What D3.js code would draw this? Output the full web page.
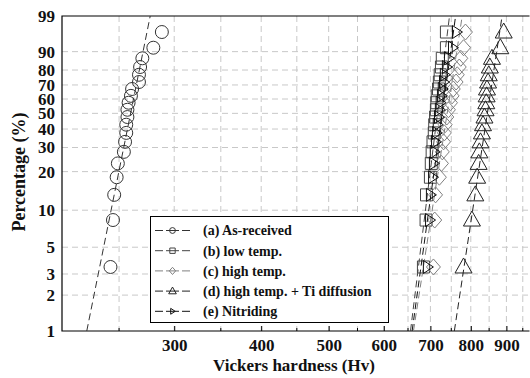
<!DOCTYPE html>
<html>
<head>
<meta charset="utf-8">
<script src="https://cdn.jsdelivr.net/npm/d3@7"></script>
<style>
  body { margin: 0; background: #fff; }
  text { font-family: "Liberation Serif", "Times New Roman", serif; font-weight: bold; fill: #111; }
</style>
</head>
<body>
<svg width="530" height="378"></svg>
<script>
// hardness values (Hv), sorted, 20 indents per sample
var seriesNames = ['(a) As-received', '(b) low temp.', '(c) high temp.', '(d) high temp. + Ti diffusion', '(e) Nitriding'];
var hvA = [243, 245, 246, 248, 249, 254, 255, 256, 256, 257, 257, 258, 260, 261, 267, 267, 268, 270, 280, 288];
var hvB = [684, 690, 691, 700, 702, 704, 706, 709, 710, 712, 714, 715, 716, 719, 721, 723, 726, 728, 738, 738];
var hvC = [707, 710, 712, 721, 726, 728, 731, 733, 735, 739, 743, 748, 752, 755, 762, 765, 770, 774, 781, 786];
var hvD = [781, 803, 812, 817, 821, 823, 826, 830, 833, 837, 840, 842, 843, 844, 847, 849, 852, 858, 882, 892];
var hvE = [693, 698, 700, 705, 707, 709, 712, 714, 716, 719, 721, 723, 726, 728, 731, 733, 738, 743, 753, 763];
// fitted weibull lines: shape (m) and scale (Hv)
var fitShape = [29.2, 47.5, 38.0, 38.8, 42.6];
var fitScale = [263, 722, 747, 853, 734];

var xTicks = [300, 400, 500, 600, 700, 800, 900];
var xMinor = [250, 350, 450, 550, 650, 750, 850, 950];
var yTicks = [1, 2, 3, 5, 10, 20, 30, 40, 50, 60, 70, 80, 90, 99];

var colors = ['#333', '#444', '#808080', '#222', '#111'];
var shapes = ['circle', 'square', 'diamond', 'triangle', 'right'];

var svg = d3.select('svg');
var pLeft = 62, pRight = 529.5, pTop = 16, pBottom = 331;

function weib(p) { return Math.log(-Math.log(1 - p)); }

var x = d3.scaleLog().domain([207, 973]).range([pLeft, 530]);
var yw = d3.scaleLinear().domain([weib(0.01), weib(0.99)]).range([pBottom, pTop]);
function y(pct) { return yw(weib(pct / 100)); }

// grid
svg.append('g').selectAll('line')
	.data(yTicks.filter(function(d){ return d > 1 && d < 99; }))
	.enter().append('line')
	.attr('x1', pLeft).attr('x2', pRight)
	.attr('y1', function(d){ return y(d); }).attr('y2', function(d){ return y(d); })
	.style('stroke', '#c8c8c8').style('stroke-dasharray', '6,4');

svg.append('g').selectAll('line')
	.data(xTicks.concat(xMinor))
	.enter().append('line')
	.attr('x1', function(d){ return x(d); }).attr('x2', function(d){ return x(d); })
	.attr('y1', pTop).attr('y2', pBottom)
	.style('stroke', '#c8c8c8').style('stroke-dasharray', '6,4');

// frame
svg.append('path')
	.attr('d', 'M' + pRight + ',' + pTop + 'H' + pLeft + 'V' + pBottom + 'H' + pRight)
	.style('fill', 'none').style('stroke', '#000').style('stroke-width', 1.2);

// bottom axis
var xAxis = d3.axisBottom(x).tickValues(xTicks).tickFormat(d3.format('d')).tickSize(-5).tickPadding(8);
var gx = svg.append('g').attr('transform', 'translate(0,' + pBottom + ')').call(xAxis);
gx.select('.domain').remove();
gx.selectAll('.tick line').style('stroke', '#000');
gx.selectAll('text').style('font-size', '17px').attr('dy', '0.72em');
svg.append('g').selectAll('line').data(xMinor).enter().append('line')
	.attr('x1', function(d){ return x(d); }).attr('x2', function(d){ return x(d); })
	.attr('y1', pBottom).attr('y2', pBottom - 3).style('stroke', '#000');

// left axis labels
svg.append('g').selectAll('text').data(yTicks).enter().append('text')
	.attr('x', 55).attr('y', function(d){ return y(d); })
	.attr('dy', '0.35em').attr('text-anchor', 'end')
	.style('font-size', '17px')
	.text(function(d){ return d; });

svg.append('text').attr('x', 294).attr('y', 371).attr('text-anchor', 'middle')
	.style('font-size', '17px').text('Vickers hardness (Hv)');
svg.append('text').attr('transform', 'translate(25,172) rotate(-90)').attr('text-anchor', 'middle')
	.style('font-size', '18px').text('Percentage (%)');

function shapePath(kind, s) {
	if (kind == 'circle') return d3.symbol().type(d3.symbolCircle).size(Math.PI * 42 * s * s)();
	if (kind == 'square') { var h = 6 * s; return 'M' + -h + ',' + -h + 'H' + h + 'V' + h + 'H' + -h + 'Z'; }
	if (kind == 'diamond') return 'M0,' + (-8 * s) + 'L' + (7 * s) + ',0L0,' + (8 * s) + 'L' + (-7 * s) + ',0Z';
	if (kind == 'triangle') return 'M0,' + (-9 * s) + 'L' + (8.5 * s) + ',' + (6 * s) + 'L' + (-8.5 * s) + ',' + (6 * s) + 'Z';
	return 'M' + (-4 * s) + ',' + (-6.5 * s) + 'L' + (6 * s) + ',0L' + (-4 * s) + ',' + (6.5 * s) + 'Z';
}

var allHv = [hvA, hvB, hvC, hvD, hvE];
svg.append('clipPath').attr('id', 'plot').append('rect')
	.attr('x', pLeft).attr('y', pTop).attr('width', pRight - pLeft).attr('height', pBottom - pTop);
var plot = svg.append('g').attr('clip-path', 'url(#plot)');

var wLo = weib(0.01), wHi = weib(0.99);
var line = d3.line().x(function(d){ return x(d[0]); }).y(function(d){ return yw(d[1]); });

allHv.forEach(function(hv, k){
	var n = hv.length;
	var pts = hv.map(function(v, i){ return [v, (i + 1 - 0.3) / (n + 0.4)]; });

	var fit = [wLo, wHi].map(function(w){ return [fitScale[k] * Math.exp(w / fitShape[k]), w]; });
	plot.append('path').datum(fit).attr('d', line)
		.style('fill', 'none').style('stroke', colors[k]).style('stroke-dasharray', '7,4').style('stroke-width', 1);

	plot.append('g').selectAll('path').data(pts).enter().append('path')
		.attr('d', shapePath(shapes[k], 1))
		.attr('transform', function(d){ return 'translate(' + x(d[0]) + ',' + yw(weib(d[1])) + ')'; })
		.style('fill', 'none').style('stroke', colors[k]).style('stroke-width', 1);
});

// legend
var lg = svg.append('g');
lg.append('rect').attr('x', 150.5).attr('y', 216.5).attr('width', 238).attr('height', 106)
	.style('fill', '#fff').style('stroke', '#000').style('stroke-width', 1);
seriesNames.forEach(function(name, k){
	var ly = 230.5 + k * 20.2;
	lg.append('line').attr('x1', 155).attr('x2', 163).attr('y1', ly).attr('y2', ly).style('stroke', colors[k]);
	lg.append('line').attr('x1', 166).attr('x2', 179).attr('y1', ly).attr('y2', ly).style('stroke', colors[k]);
	lg.append('line').attr('x1', 182).attr('x2', 190).attr('y1', ly).attr('y2', ly).style('stroke', colors[k]);
	lg.append('path').attr('d', shapePath(shapes[k], 0.45))
		.attr('transform', 'translate(172.5,' + ly + ')')
		.style('fill', 'none').style('stroke', colors[k]).style('stroke-width', 1);
	lg.append('text').attr('x', 203).attr('y', ly).attr('dy', '0.35em')
		.style('font-size', '14px').text(name);
});
</script>
</body>
</html>
